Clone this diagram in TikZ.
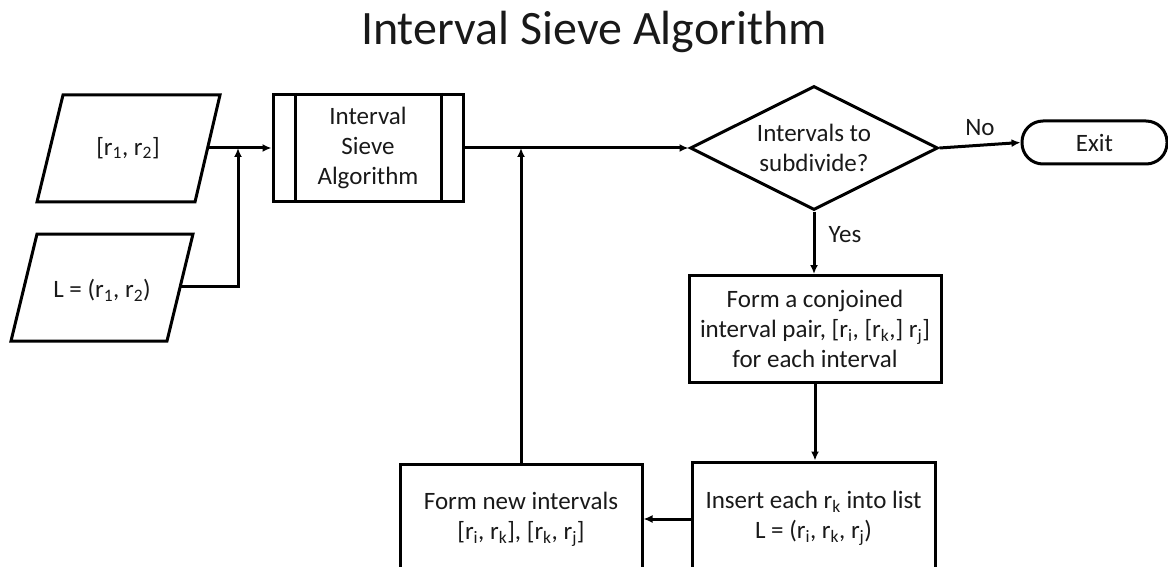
\documentclass[tikz,border=0pt]{standalone}
\usepackage{fontspec}
\setmainfont{Carlito}
\usetikzlibrary{shapes.geometric,arrows.meta}
\newcommand{\fsbody}{\fontsize{25}{30}\selectfont}
\newcommand{\rs}[1]{r\textsubscript{#1}}
\begin{document}
\begin{tikzpicture}[x=1pt,y=-1pt,
  line width=3pt, line join=miter,
  every node/.style={font=\fsbody, text=black!90},
  arr/.style={-{Latex[length=9pt,width=8pt]}},
  box/.style={draw, rectangle, align=center, inner sep=0pt},
  io/.style={line join=miter}]
\useasboundingbox (0,0) rectangle (1168,567);
\clip (0,0) rectangle (1168,567);

% title
\node[font=\fontsize{48}{56}\selectfont, anchor=base] (title) at (594,45) {Interval Sieve Algorithm};

% input parallelograms
\draw[io] (63,95) -- (220,95) -- (195,202) -- (37,202) -- cycle;
\node (p1) at (128,148) {[\rs{1}, \rs{2}]};
\coordinate (p1r) at (207.5,148);
\draw[io] (37,234) -- (193,234) -- (167,341) -- (11,341) -- cycle;
\node (p2) at (102,290) {L = (\rs{1}, \rs{2})};
\coordinate (p2r) at (180.5,286);
\coordinate (j1) at (238,148);

% predefined process
\node[box, minimum width=190pt, minimum height=107pt] (isa) at (368,148) {Interval\\Sieve\\Algorithm};
\draw ([xshift=24pt]isa.north west) -- ([xshift=24pt]isa.south west);
\draw ([xshift=-23pt]isa.north east) -- ([xshift=-23pt]isa.south east);

% decision
\node[draw, diamond, aspect=2, minimum width=248pt, minimum height=124pt, inner sep=0pt, align=center] (dia) at (814,148) {Intervals to\\subdivide?};

% terminal
\node[draw, rounded corners=21pt, minimum width=145pt, minimum height=43pt, inner sep=0pt] (exit) at (1094.5,142.5) {Exit};

% process boxes
\node[box, minimum width=252pt, minimum height=107pt] (conj) at (815,329) {Form a conjoined\\interval pair, {[}\rs{i}, {[}\rs{k},{]} \rs{j}{]}\\for each interval};
\node[box, minimum width=243pt, minimum height=112pt] (ins) at (813.5,518) {Insert each \rs{k} into list\\L = (\rs{i}, \rs{k}, \rs{j})};
\node[box, minimum width=242pt, minimum height=110pt] (fn) at (521,519) {Form new intervals\\{[}\rs{i}, \rs{k}{]}, {[}\rs{k}, \rs{j}{]}};

% labels
\node (no) at (980,128) {No};
\node (yes) at (845,235) {Yes};

% connectors
\draw[arr] (p1r) -- (p1r -| isa.west);
\draw[arr] (p2r) -| (j1);
\draw[arr] (isa.east) -- (dia.west);
\draw[arr] (fn.north) -- (fn.north |- isa.east);
\draw[arr] (dia.east) -- (exit.west);
\draw[arr] (dia.south) -- (dia.south |- conj.north);
\draw[arr] (conj.south) -- (conj.south |- ins.north);
\draw[arr] (ins.west |- fn.east) -- (fn.east);
\end{tikzpicture}
\end{document}
